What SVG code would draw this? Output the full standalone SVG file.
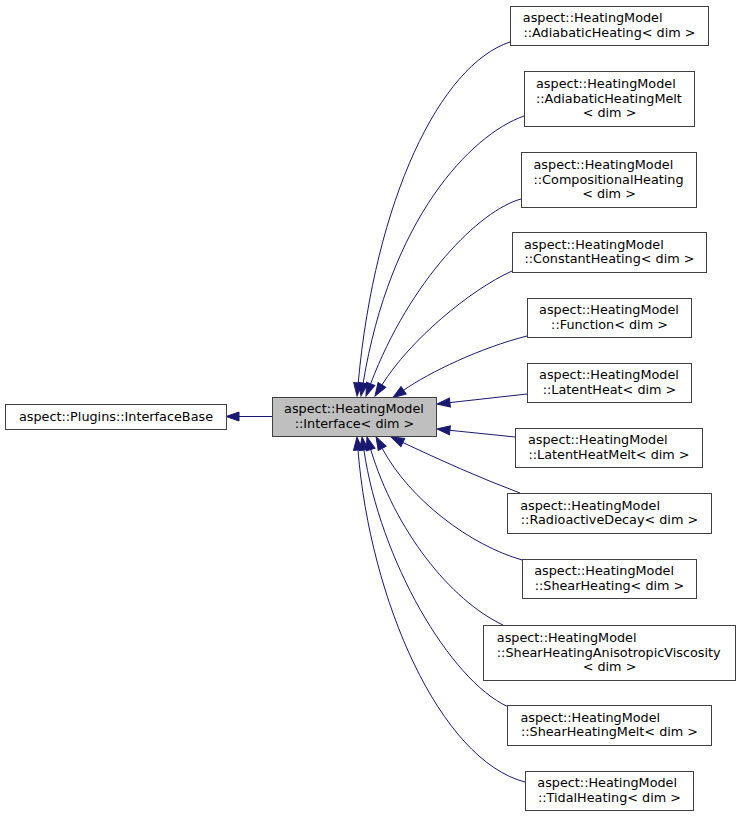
<svg xmlns="http://www.w3.org/2000/svg" width="740" height="817" viewBox="0 0 740 817">
<style>
.n rect{fill:#ffffff;stroke:#404040;stroke-width:1}
.n.main rect{fill:#bfbfbf}
text{font-family:"DejaVu Sans","Liberation Sans",sans-serif;font-size:12.8px;fill:#000}
.m{text-anchor:middle}
.e path{fill:none;stroke:#191970;stroke-width:1;marker-end:url(#arr)}
</style>
<defs>
<marker id="arr" markerUnits="userSpaceOnUse" viewBox="-1 -6 16 12" refX="0" refY="0" markerWidth="16" markerHeight="12" orient="auto" overflow="visible">
<path d="M0,-4.5 L13,0 L0,4.5 Z" fill="#191970" stroke="#191970" stroke-width="1"/>
</marker>
</defs>
<rect width="740" height="817" fill="#ffffff"/>
<g class="e" id="edges">
<path d="M272,416.5 L239,416.5"/>
<path d="M510,42 C440,65 375,200 358.2,383"/>
<path d="M524,116 C470,135 390,220 363.1,383.2"/>
<path d="M521,199 C480,210 410,280 370.6,383.8"/>
<path d="M512,271 C470,290 410,340 381.9,385"/>
<path d="M527,336 C480,348 430,372 403.6,390.2"/>
<path d="M527,394 L449.9,402.6"/>
<path d="M515,437 L449.9,430.3"/>
<path d="M520,493 C480,478 440,460 402.8,442.5"/>
<path d="M522,560 C470,545 410,500 382.2,448.4"/>
<path d="M503,625 C450,600 395,530 370.7,449.5"/>
<path d="M507.5,706.5 C450,680 380,560 363.9,449.9"/>
<path d="M525,782 C440,760 370,600 358,450"/>
</g>
<g class="n" id="interfacebase"><rect x="5.5" y="404.5" width="221" height="25"/><text class="m" x="116" y="420.5">aspect::Plugins::InterfaceBase</text></g>
<g class="n main" id="interface"><rect x="272.5" y="397.5" width="164" height="39"/><text x="284.1" y="413.3">aspect::HeatingModel</text><text class="m" x="354.5" y="427.8">::Interface&lt; dim &gt;</text></g>
<g class="n" id="adiabaticheating"><rect x="510.5" y="6.5" width="198" height="39"/><text x="522.8" y="22.3">aspect::HeatingModel</text><text class="m" x="609.5" y="36.8">::AdiabaticHeating&lt; dim &gt;</text></g>
<g class="n" id="adiabaticheatingmelt"><rect x="524.5" y="71.5" width="170" height="55"/><text x="536" y="88">aspect::HeatingModel</text><text x="536" y="102.5">::AdiabaticHeatingMelt</text><text class="m" x="609.5" y="117">&lt; dim &gt;</text></g>
<g class="n" id="compositionalheating"><rect x="521.5" y="152.5" width="175" height="55"/><text x="533.5" y="169">aspect::HeatingModel</text><text x="533.5" y="183.5">::CompositionalHeating</text><text class="m" x="609" y="198">&lt; dim &gt;</text></g>
<g class="n" id="constantheating"><rect x="512.5" y="232.5" width="194" height="40"/><text x="524" y="248.8">aspect::HeatingModel</text><text class="m" x="609.5" y="263.3">::ConstantHeating&lt; dim &gt;</text></g>
<g class="n" id="function"><rect x="527.5" y="298.5" width="164" height="39"/><text x="539.1" y="314.3">aspect::HeatingModel</text><text class="m" x="609.5" y="328.8">::Function&lt; dim &gt;</text></g>
<g class="n" id="latentheat"><rect x="527.5" y="363.5" width="164" height="39"/><text x="539.1" y="379.3">aspect::HeatingModel</text><text class="m" x="609.5" y="393.8">::LatentHeat&lt; dim &gt;</text></g>
<g class="n" id="latentheatmelt"><rect x="515.5" y="428.5" width="187" height="39"/><text x="527.9" y="444.3">aspect::HeatingModel</text><text class="m" x="609" y="458.8">::LatentHeatMelt&lt; dim &gt;</text></g>
<g class="n" id="radioactivedecay"><rect x="507.5" y="493.5" width="204" height="40"/><text x="520.2" y="509.8">aspect::HeatingModel</text><text class="m" x="609.5" y="524.3">::RadioactiveDecay&lt; dim &gt;</text></g>
<g class="n" id="shearheating"><rect x="522.5" y="559.5" width="174" height="39"/><text x="534.2" y="575.3">aspect::HeatingModel</text><text class="m" x="609.5" y="589.8">::ShearHeating&lt; dim &gt;</text></g>
<g class="n" id="shearheatinganisotropicviscosity"><rect x="483.5" y="625.5" width="252" height="55"/><text x="496.8" y="642">aspect::HeatingModel</text><text x="496.8" y="656.5">::ShearHeatingAnisotropicViscosity</text><text class="m" x="609.5" y="671">&lt; dim &gt;</text></g>
<g class="n" id="shearheatingmelt"><rect x="507.5" y="705.5" width="204" height="40"/><text x="520.4" y="721.8">aspect::HeatingModel</text><text class="m" x="609.5" y="736.3">::ShearHeatingMelt&lt; dim &gt;</text></g>
<g class="n" id="tidalheating"><rect x="525.5" y="771.5" width="168" height="39"/><text x="537.3" y="787.3">aspect::HeatingModel</text><text class="m" x="609.5" y="801.8">::TidalHeating&lt; dim &gt;</text></g>
</svg>
